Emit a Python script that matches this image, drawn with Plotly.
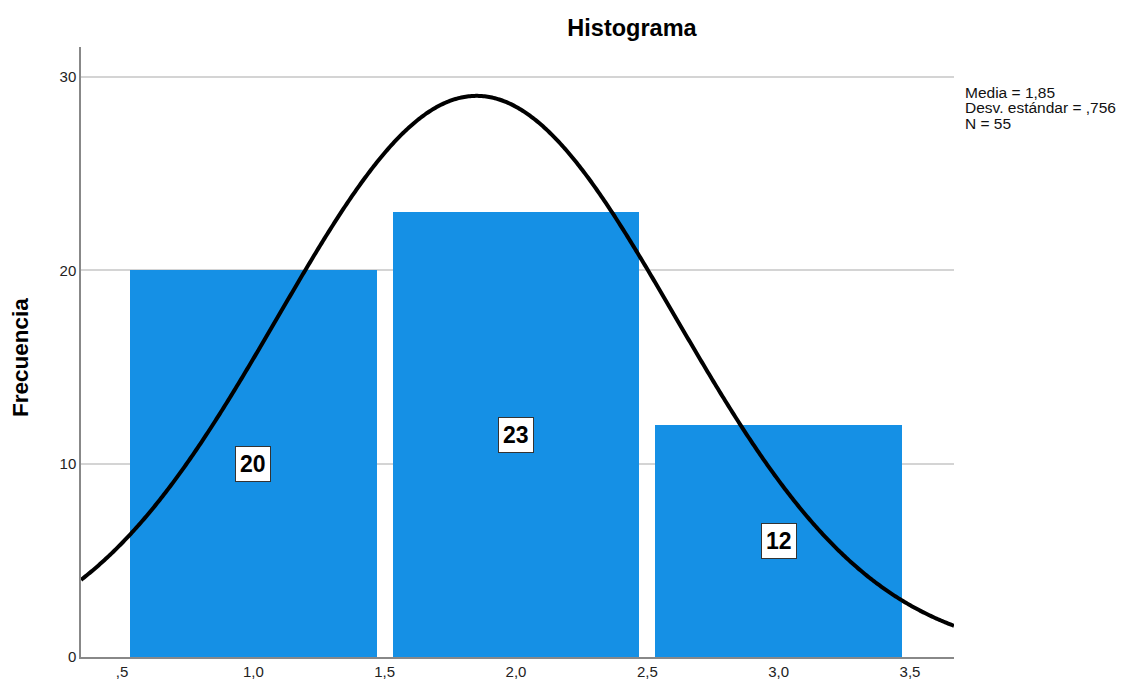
import numpy as np
import plotly.graph_objects as go

# Data
bin_centers = [1.0, 2.0, 3.0]
frequencies = [20, 23, 12]
bin_width = [1.0]
MEAN = 1.85
SD = 0.756
N = 55
x_tickvals = [0.5, 1.0, 1.5, 2.0, 2.5, 3.0, 3.5]
x_ticktext = [",5", "1,0", "1,5", "2,0", "2,5", "3,0", "3,5"]
y_tickvals = [0, 10, 20, 30]
y_ticktext = ["0", "10", "20", "30"]
stats_lines = ["Media = 1,85", "Desv. estándar = ,756", "N = 55"]

BAR_COLOR = "#1590E5"
FONT = "Liberation Sans, Arial, sans-serif"

# page has an 8px body margin, figure size compensates
W, H = 1121, 676
L, R, T, B = 73, 175, 39, 27
PW, PH = W - L - R, H - T - B

x_range = [0.344, 3.6675]
y_range = [0, 31.55]

# Normal curve scaled to counts, from the displayed statistics
xs = np.linspace(x_range[0], x_range[1], 600)
ys = N * bin_width[0] / (SD * np.sqrt(2 * np.pi)) * np.exp(-0.5 * ((xs - MEAN) / SD) ** 2)

fig = go.Figure()
fig.add_trace(go.Bar(
    x=bin_centers, y=frequencies, width=0.94,
    marker=dict(color=BAR_COLOR, line=dict(width=0)),
    hoverinfo="x+y", showlegend=False,
))
fig.add_trace(go.Scatter(
    x=xs, y=ys, mode="lines",
    line=dict(color="black", width=4, simplify=False),
    hoverinfo="skip", showlegend=False,
))

for xc, f in zip(bin_centers, frequencies):
    fig.add_annotation(
        x=xc, y=f / 2, text=f"<b>{f}</b>", showarrow=False,
        font=dict(family=FONT, size=23, color="black"),
        bgcolor="white", bordercolor="#333333", borderwidth=1, borderpad=4,
    )

# statistics box (one annotation per line for tight spacing)
for i, line in enumerate(stats_lines):
    top_px = 82 - 8 + i * 15.5
    fig.add_annotation(
        xref="paper", yref="paper", x=(963 - 8 - L) / PW, y=1 - (top_px - T) / PH,
        xanchor="left", yanchor="top", text=line, align="left", showarrow=False,
        font=dict(family=FONT, size=15.5, color="#111111"),
    )

# y-axis title
fig.add_annotation(
    xref="paper", yref="paper", x=-(L - 12) / PW, y=1 - (350 - T) / PH,
    xanchor="center", yanchor="middle", textangle=-90, showarrow=False,
    text="<b>Frecuencia</b>", font=dict(family=FONT, size=22.5, color="black"),
)

fig.update_layout(
    width=W, height=H,
    margin=dict(l=L, r=R, t=T, b=B, autoexpand=False),
    paper_bgcolor="white", plot_bgcolor="white",
    title=dict(text="<b>Histograma</b>", x=(632 - 8) / W, xanchor="center",
               y=1 - (28 - 8) / H, yanchor="middle",
               font=dict(family=FONT, size=23.5, color="black")),
    font=dict(family=FONT, size=15, color="black"),
    bargap=0,
)
fig.update_xaxes(
    range=x_range, tickvals=x_tickvals, ticktext=x_ticktext, automargin=False,
    showgrid=False, zeroline=False, showline=True, linecolor="#888888", linewidth=1.5,
    ticks="", tickfont=dict(family=FONT, size=15, color="#222222"),
)
fig.update_yaxes(
    range=y_range, tickvals=y_tickvals, ticktext=y_ticktext, automargin=False,
    showgrid=True, gridcolor="#D4D4D4", gridwidth=2,
    zeroline=False, showline=True, linecolor="#888888", linewidth=1.5,
    ticks="", tickfont=dict(family=FONT, size=15, color="#222222"),
)

fig.write_html("out.html")
